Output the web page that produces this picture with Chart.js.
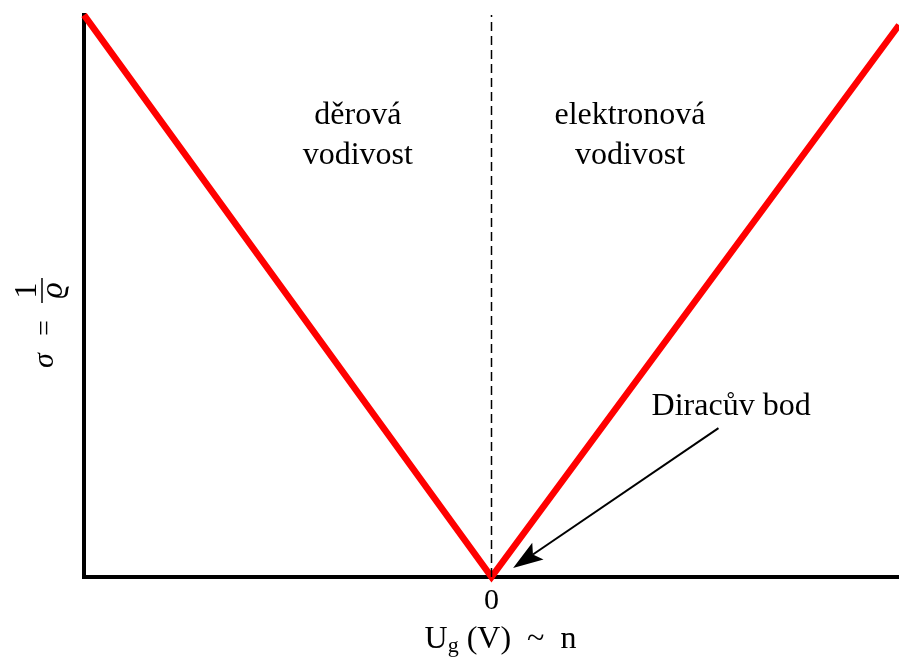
<!DOCTYPE html>
<html>
<head>
<meta charset="utf-8">
<script src="https://cdn.jsdelivr.net/npm/chart.js@4.4.1/dist/chart.umd.min.js"></script>
<style>
  html, body { margin: 0; padding: 0; background: #fff; }
  #wrap { width: 899px; height: 661px; }
</style>
</head>
<body>
<div id="wrap"><canvas id="graphCanvas"></canvas></div>
<script>
// V-shaped conductivity curve (arbitrary units), gate voltage -1..1
var sigmaX = [-1, 0, 1];
var sigmaY = [1, 0, 0.982];
// dashed line at the Dirac point
var diracX = [0, 0];
var diracY = [0, 1];
var xTicks = [0];
var xTickLabels = ['0'];

// labels inside the plot, in data units
var regionLabels = [
	{ x: -0.328, y: 0.821, text: 'děrová' },
	{ x: -0.328, y: 0.749, text: 'vodivost' },
	{ x: 0.340, y: 0.821, text: 'elektronová' },
	{ x: 0.340, y: 0.749, text: 'vodivost' },
	{ x: 0.588, y: 0.304, text: 'Diracův bod' }
];
var arrowFrom = [0.557, 0.265];
var arrowTo = [0.053, 0.016];

var serif = '"Liberation Serif", "DejaVu Serif", serif';

function toPoints(xs, ys) {
	var pts = [];
	for (var i in xs) {
		pts.push({ x: xs[i], y: ys[i] });
	}
	return pts;
}

var annotations = {
	id: 'annotations',
	afterDatasetsDraw: function (chart) {
		var ctx = chart.ctx;
		var xs = chart.scales.x;
		var ys = chart.scales.y;
		ctx.save();
		ctx.fillStyle = '#000';
		ctx.font = '32px ' + serif;
		ctx.textAlign = 'center';
		ctx.textBaseline = 'middle';
		for (var i in regionLabels) {
			var l = regionLabels[i];
			ctx.fillText(l.text, xs.getPixelForValue(l.x), ys.getPixelForValue(l.y));
		}

		// arrow to the Dirac point
		var x1 = xs.getPixelForValue(arrowFrom[0]), y1 = ys.getPixelForValue(arrowFrom[1]);
		var x2 = xs.getPixelForValue(arrowTo[0]), y2 = ys.getPixelForValue(arrowTo[1]);
		var ang = Math.atan2(y2 - y1, x2 - x1);
		var len = 30, half = 10;
		ctx.strokeStyle = '#000';
		ctx.lineWidth = 2;
		ctx.beginPath();
		ctx.moveTo(x1, y1);
		ctx.lineTo(x2 - Math.cos(ang) * len * 0.8, y2 - Math.sin(ang) * len * 0.8);
		ctx.stroke();
		ctx.translate(x2, y2);
		ctx.rotate(ang);
		ctx.beginPath();
		ctx.moveTo(0, 0);
		ctx.lineTo(-len, -half);
		ctx.lineTo(-len * 0.8, 0);
		ctx.lineTo(-len, half);
		ctx.closePath();
		ctx.fill();
		ctx.restore();

		// x axis title: U_g (V) ~ n
		ctx.save();
		ctx.fillStyle = '#000';
		ctx.textBaseline = 'alphabetic';
		ctx.textAlign = 'left';
		var big = '32px ' + serif, small = '22px ' + serif;
		ctx.font = big;
		var wU = ctx.measureText('U').width;
		var rest = ' (V)  ~  n';
		var wR = ctx.measureText(rest).width;
		ctx.font = small;
		var wG = ctx.measureText('g').width;
		var total = wU + wG + wR;
		var cx = xs.getPixelForValue(0) + 9;
		var base = chart.chartArea.bottom + 71;
		var sx = cx - total / 2;
		ctx.font = big;
		ctx.fillText('U', sx, base);
		ctx.font = small;
		ctx.fillText('g', sx + wU, base + 4);
		ctx.font = big;
		ctx.fillText(rest, sx + wU + wG, base);
		ctx.restore();

		// y axis title: sigma = 1 / rho (rotated)
		ctx.save();
		ctx.fillStyle = '#000';
		ctx.strokeStyle = '#000';
		var midY = (chart.chartArea.top + chart.chartArea.bottom) / 2;
		ctx.translate(chart.chartArea.left - 31, midY + 72);
		ctx.rotate(-Math.PI / 2);
		ctx.textBaseline = 'alphabetic';
		ctx.textAlign = 'left';
		ctx.font = 'italic 30px ' + serif;
		ctx.fillText('σ', 0, 0);
		ctx.font = '28px ' + serif;
		ctx.fillText('=', 32, 0);
		ctx.lineWidth = 1.5;
		ctx.beginPath();
		ctx.moveTo(65, -11);
		ctx.lineTo(90, -11);
		ctx.stroke();
		ctx.textAlign = 'center';
		ctx.font = '32px ' + serif;
		ctx.fillText('1', 77.5, -17);
		ctx.font = 'italic 32px ' + serif;
		ctx.fillText('ϱ', 77.5, 9);
		ctx.restore();
	}
};

var chartdata = {
	datasets: [
		{
			label: 'Dirac',
			data: toPoints(diracX, diracY),
			borderColor: '#000000',
			borderWidth: 1.5,
			borderDash: [9, 5],
			pointRadius: 0,
			fill: false,
			clip: false
		},
		{
			label: 'sigma',
			data: toPoints(sigmaX, sigmaY),
			borderColor: '#ff0000',
			borderWidth: 6.5,
			pointRadius: 0,
			tension: 0,
			fill: false,
			clip: false
		}
	]
};

var graphTarget = document.getElementById('graphCanvas');

var lineGraph = new Chart(graphTarget, {
	type: 'line',
	data: chartdata,
	plugins: [annotations],
	options: {
		responsive: true,
		maintainAspectRatio: false,
		animation: false,
		layout: { padding: { left: 84, right: 0, top: 15, bottom: 36 } },
		plugins: {
			legend: { display: false },
			tooltip: { enabled: false }
		},
		scales: {
			x: {
				type: 'linear',
				min: -1,
				max: 1,
				afterBuildTicks: function (s) {
					s.ticks = xTicks.map(function (v) { return { value: v }; });
				},
				ticks: {
					color: '#000',
					font: { family: serif, size: 30 },
					padding: 6,
					maxRotation: 0,
					callback: function (v) {
						var i = xTicks.indexOf(v);
						return i >= 0 ? xTickLabels[i] : '';
					}
				},
				grid: { display: false, drawTicks: false },
				border: { display: true, color: '#000', width: 4 }
			},
			y: {
				type: 'linear',
				min: 0,
				max: 1,
				ticks: { display: false },
				grid: { display: false, drawTicks: false },
				border: { display: true, color: '#000', width: 4 }
			}
		}
	}
});
</script>
</body>
</html>
